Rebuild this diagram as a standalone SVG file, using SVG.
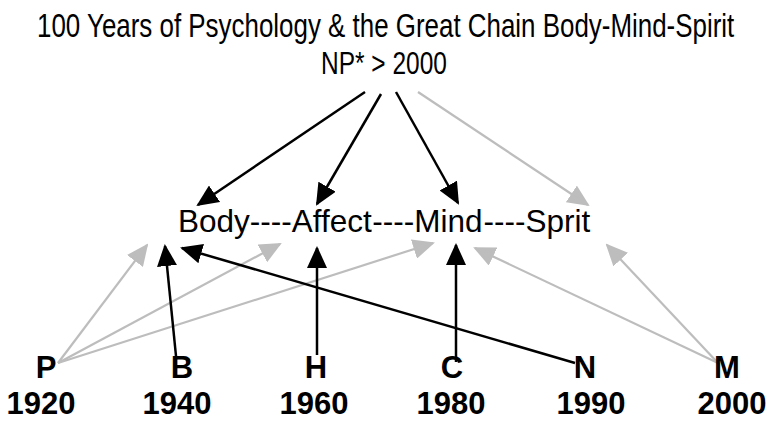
<svg xmlns="http://www.w3.org/2000/svg" width="770" height="421" viewBox="0 0 770 421">
<style>
.t{font-family:"Liberation Sans",Arial,sans-serif;fill:#000}
.h{font-size:33px}
.n{font-size:31.5px}
.b{font-size:31px;font-weight:bold;text-anchor:middle}
.k{stroke:#000;stroke-width:2.5;fill:none;marker-end:url(#ak)}
.g{stroke:#bdbdbd;stroke-width:2.2;fill:none;marker-end:url(#ag)}
</style>
<defs>
<marker id="ak" markerUnits="userSpaceOnUse" markerWidth="22" markerHeight="20" refX="20" refY="10" orient="auto"><path d="M0,0 L22,10 L0,20 z" fill="#000"/></marker>
<marker id="ag" markerUnits="userSpaceOnUse" markerWidth="22" markerHeight="20" refX="20" refY="10" orient="auto"><path d="M0,0 L22,10 L0,20 z" fill="#bdbdbd"/></marker>
</defs>
<rect width="770" height="421" fill="#fff"/>
<g id="title"><text class="t h" transform="translate(37,37) scale(0.786,1)" x="0" y="0">100 Years of Psychology &amp; the Great Chain Body-Mind-Spirit</text></g>
<g id="connectors">
<line class="k" x1="365" y1="92" x2="198" y2="205"/>
<line class="k" x1="381" y1="94" x2="317" y2="204"/>
<line class="k" x1="396" y1="92" x2="458" y2="203"/>
<line class="g" x1="418" y1="92" x2="588" y2="205"/>
<line class="g" x1="58" y1="363" x2="147" y2="245"/>
<line class="g" x1="58" y1="363" x2="280" y2="244"/>
<line class="g" x1="58" y1="363" x2="433" y2="243"/>
<line class="k" x1="176" y1="356" x2="165" y2="246"/>
<line class="k" x1="317" y1="355" x2="317" y2="248"/>
<line class="k" x1="456" y1="362" x2="456" y2="245"/>
<line class="k" x1="575" y1="363" x2="182" y2="248"/>
<line class="g" x1="718" y1="363" x2="475" y2="248"/>
<line class="g" x1="718" y1="363" x2="607" y2="245"/>
</g>
<g id="np"><text class="t" font-size="31" transform="translate(321,74) scale(0.79,1)" x="0" y="0">NP* &gt; 2000</text></g>
<g id="body"><text class="t n" x="178" y="232">Body</text></g>
<g id="dash1"><text class="t n" x="249.8" y="232">----</text></g>
<g id="affect"><text class="t n" x="291.8" y="232">Affect</text></g>
<g id="dash2"><text class="t n" x="372.3" y="232">----</text></g>
<g id="mind"><text class="t n" x="414.3" y="232">Mind</text></g>
<g id="dash3"><text class="t n" x="483.6" y="232">----</text></g>
<g id="sprit"><text class="t n" x="525.6" y="232">Sprit</text></g>
<g id="p"><text class="t b" x="46" y="378">P</text><text class="t b" x="41" y="414">1920</text></g>
<g id="b"><text class="t b" x="182" y="378">B</text><text class="t b" x="177" y="414">1940</text></g>
<g id="h"><text class="t b" x="316" y="378">H</text><text class="t b" x="314" y="414">1960</text></g>
<g id="c"><text class="t b" x="452" y="378">C</text><text class="t b" x="451" y="414">1980</text></g>
<g id="n"><text class="t b" x="585" y="378">N</text><text class="t b" x="591" y="414">1990</text></g>
<g id="m"><text class="t b" x="727" y="378">M</text><text class="t b" x="732" y="414">2000</text></g>
</svg>
